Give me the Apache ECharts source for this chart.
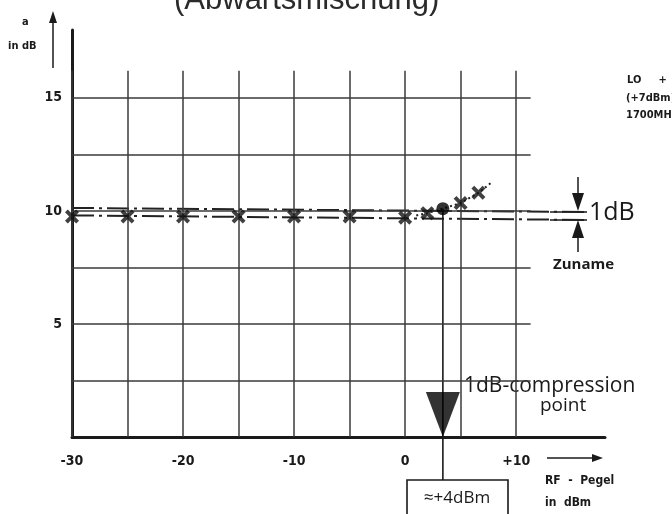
<!DOCTYPE html>
<html><head><meta charset="utf-8">
<script src="https://cdn.jsdelivr.net/npm/echarts@6/dist/echarts.min.js"></script>
<style>html,body{margin:0;padding:0;background:#fff}#c{width:672px;height:514px}</style>
</head><body><div id="c"></div>
<script>
// ---- data ----
const xTickLabels = [-30, -20, -10, 0, 10];
const xGridLines = [-30, -25, -20, -15, -10, -5, 0, 5, 10];
const yGridLines = [2.5, 5, 7.5, 10, 12.5, 15];
const yTickLabels = [5, 10, 15];
const measuredX = [-30, -25, -20, -15, -10, -5, 0, 2, 5, 6.6];
const measuredY = [9.75, 9.75, 9.75, 9.75, 9.75, 9.75, 9.7, 9.9, 10.35, 10.8];
const trendX = [1, 2, 3.4, 5, 6.6, 7.9];
const trendY = [9.8, 9.9, 10.1, 10.35, 10.8, 11.3];
const refUpperX = [-30, 16.4];
const refUpperY = [10.13, 9.95];
const refLowerX = [-30, 16.4];
const refLowerY = [9.8, 9.6];
const compressionX = 3.4;
const compressionY = 10.1;
const compressionLabel = '≈+4dBm';

const zip = (a, b) => a.map((v, i) => [v, b[i]]);
const ink = '#1a1a1a';
const gridInk = '#3a3a3a';
const narrow = "'Liberation Sans Narrow','DejaVu Sans Condensed','Liberation Sans',sans-serif";
const hand = "'Open Sans','DejaVu Sans',sans-serif";

const gridMarks = [];
xGridLines.forEach(x => gridMarks.push([{coord: [x, 0]}, {coord: [x, 16.2]}]));
yGridLines.forEach(y => gridMarks.push([{coord: [-30, y]}, {coord: [11.3, y]}]));

const xMark = 'path://M0,2 L2,0 L5,3 L8,0 L10,2 L7,5 L10,8 L8,10 L5,7 L2,10 L0,8 L3,5 Z';

const chart = echarts.init(document.getElementById('c'), null, {renderer: 'canvas'});
chart.setOption({
  backgroundColor: '#ffffff',
  animation: false,
  grid: {left: 72, right: 67, top: 30, bottom: 77},
  xAxis: {
    type: 'value', min: -30, max: 18, interval: 10,
    axisLine: {show: true, onZero: false, lineStyle: {color: ink, width: 3}},
    axisTick: {show: false},
    splitLine: {show: false},
    axisLabel: {
      showMaxLabel: false, margin: 17, color: ink, fontFamily: narrow, fontSize: 14, fontWeight: 'bold',
      formatter: v => xTickLabels.includes(v) ? (v > 0 ? '+' + v : String(v)) : ''
    }
  },
  yAxis: {
    type: 'value', min: 0, max: 18, interval: 5,
    axisLine: {show: true, onZero: false, lineStyle: {color: ink, width: 3}},
    axisTick: {show: false},
    splitLine: {show: false},
    axisLabel: {
      showMaxLabel: false, margin: 10, color: ink, fontFamily: narrow, fontSize: 14, fontWeight: 'bold',
      formatter: v => yTickLabels.includes(v) ? String(v) : ''
    }
  },
  series: [
    {
      type: 'line', data: [], silent: true,
      markLine: {
        silent: true, symbol: 'none', label: {show: false},
        lineStyle: {color: gridInk, width: 1.5, type: 'solid'},
        data: gridMarks
      }
    },
    {
      type: 'line', data: zip(refUpperX, refUpperY), symbol: 'none', silent: true,
      lineStyle: {color: '#222', width: 2, type: [22, 5, 3, 5]}
    },
    {
      type: 'line', data: zip(refLowerX, refLowerY), symbol: 'none', silent: true,
      lineStyle: {color: '#222', width: 2, type: [22, 5, 3, 5]}
    },
    {
      type: 'line', data: zip(trendX, trendY), symbol: 'none', silent: true,
      lineStyle: {color: '#222', width: 2, type: [2, 3]}
    },
    {
      type: 'line', data: [[compressionX, compressionY], [compressionX, -1.9]], symbol: 'none',
      clip: false, silent: true, lineStyle: {color: ink, width: 1.6}
    },
    {
      type: 'scatter', data: zip(measuredX, measuredY), symbol: xMark, symbolSize: 14,
      itemStyle: {color: '#111'}, z: 5
    },
    {
      type: 'scatter', data: [[compressionX, compressionY]], symbol: 'circle', symbolSize: 13,
      itemStyle: {color: '#000'}, z: 6
    },
    {
      type: 'scatter', data: [[compressionX, 0]], symbol: 'path://M0,0 L34,0 L17,45 Z',
      symbolSize: [34, 45], symbolOffset: [0, '-50%'], itemStyle: {color: '#000'}, z: 6
    }
  ],
  graphic: [
    {type: 'text', x: 174, y: -15, style: {text: '(Abwärtsmischung)', font: "31px 'Liberation Sans',sans-serif", fill: '#2a2a2a'}},
    {type: 'text', x: 22, y: 17, style: {text: 'a', font: "bold 11px " + narrow, fill: ink}},
    {type: 'text', x: 8, y: 41, style: {text: 'in dB', font: "bold 11px " + narrow, fill: ink}},
    {type: 'line', shape: {x1: 53, y1: 68, x2: 53, y2: 20}, style: {stroke: ink, lineWidth: 1.5}},
    {type: 'polygon', shape: {points: [[49, 23], [57, 23], [53, 11]]}, style: {fill: ink}},
    {type: 'line', shape: {x1: 547, y1: 458, x2: 594, y2: 458}, style: {stroke: ink, lineWidth: 1.5}},
    {type: 'polygon', shape: {points: [[592, 454], [592, 462], [603, 458]]}, style: {fill: ink}},
    {type: 'text', x: 545, y: 475, style: {text: 'RF  -  Pegel', font: "bold 12px " + narrow, fill: ink}},
    {type: 'text', x: 545, y: 497, style: {text: 'in  dBm', font: "bold 12px " + narrow, fill: ink}},
    {type: 'text', x: 627, y: 75, style: {text: 'LO     +', font: "bold 11px " + narrow, fill: ink}},
    {type: 'text', x: 626, y: 93, style: {text: '(+7dBm)', font: "bold 11px " + narrow, fill: ink}},
    {type: 'text', x: 626, y: 110, style: {text: '1700MHz', font: "bold 11px " + narrow, fill: ink}},
    {type: 'line', shape: {x1: 578, y1: 177, x2: 578, y2: 198}, style: {stroke: ink, lineWidth: 1.5}},
    {type: 'polygon', shape: {points: [[572, 193], [584, 193], [578, 211]]}, style: {fill: ink}},
    {type: 'line', shape: {x1: 578, y1: 234, x2: 578, y2: 252}, style: {stroke: ink, lineWidth: 1.5}},
    {type: 'polygon', shape: {points: [[572, 238], [584, 238], [578, 220]]}, style: {fill: ink}},
    {type: 'line', shape: {x1: 550, y1: 212, x2: 587, y2: 212}, style: {stroke: ink, lineWidth: 1.5}},
    {type: 'line', shape: {x1: 550, y1: 220, x2: 587, y2: 220}, style: {stroke: ink, lineWidth: 1.5}},
    {type: 'text', x: 589, y: 200, style: {text: '1dB', font: "400 25px " + hand, fill: ink}},
    {type: 'text', x: 553, y: 257, style: {text: 'Zuname', font: "bold 15px " + hand, fill: ink}},
    {type: 'text', x: 464, y: 376, style: {text: '1dB-compression', font: "400 21px " + hand, fill: ink}},
    {type: 'text', x: 540, y: 396, style: {text: 'point', font: "400 19px " + hand, fill: ink}},
    {type: 'rect', shape: {x: 407, y: 480, width: 101, height: 40}, style: {fill: '#fff', stroke: ink, lineWidth: 1.6}},
    {type: 'text', x: 457, y: 498, style: {text: compressionLabel, font: "400 17px " + hand, fill: ink, align: 'center', verticalAlign: 'middle'}}
  ]
});
</script>
</body></html>
